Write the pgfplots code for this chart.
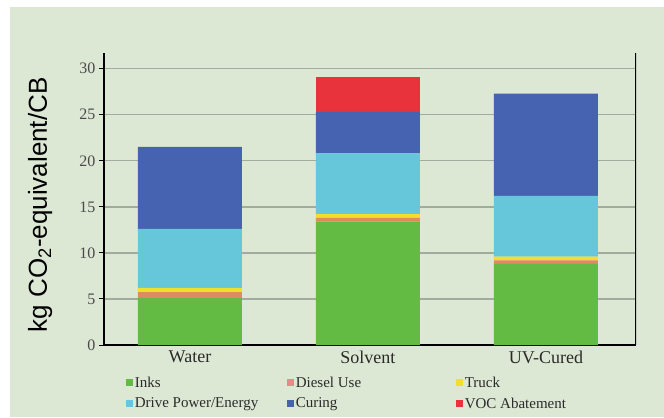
\documentclass[border=0pt]{standalone}
\usepackage{fontspec}
\setmainfont{Liberation Serif}
\setsansfont{Liberation Sans}
\usepackage{pgfplots}
\pgfplotsset{compat=1.18}
\definecolor{bg}{HTML}{DDE8D4}
\definecolor{cInks}{HTML}{64BB44}
\definecolor{cDiesel}{HTML}{E08A62}
\definecolor{cDieselL}{HTML}{E88A8A}
\definecolor{cTruck}{HTML}{F4DE2C}
\definecolor{cDrive}{HTML}{66C7DB}
\definecolor{cCuring}{HTML}{4563B1}
\definecolor{cVOC}{HTML}{E8323C}
\definecolor{gridc}{HTML}{A3AB9E}
\definecolor{txt}{HTML}{2A2A2A}
\begin{document}
\begin{tikzpicture}[x=1bp,y=1bp]
\fill[white] (0,0) rectangle (664,417);
\fill[bg] (10,0) rectangle (664,410);
\begin{axis}[
  at={(104bp,72bp)}, anchor=south west,
  scale only axis, width=532bp, height=292bp,
  xmin=-0.483, xmax=2.506, ymin=0, ymax=31.7,
  ybar stacked, bar width=104bp,
  axis x line*=bottom, axis y line*=left,
  axis line style={line width=2.2bp, black, -},
  xtick={0,1,2}, xticklabels={Water,Solvent,UV-Cured},
  xtick style={draw=none},
  ytick={0,5,...,30},
  ymajorgrids, grid style={gridc, line width=1.4bp},
  tick align=outside, major tick length=5bp,
  ytick style={black, line width=1bp},
  /pgf/number format/assume math mode=true,
  yticklabel style={font=\rmfamily\fontsize{16bp}{18bp}\selectfont, text=txt!85},
  xticklabel style={font=\rmfamily\fontsize{18bp}{20bp}\selectfont, text=txt, inner sep=1bp},
  ylabel={kg CO\textsubscript{2}-equivalent/CB},
  ylabel style={font=\sffamily\fontsize{26bp}{28bp}\selectfont, at={(axis description cs:-0.12,0.48)}, anchor=center},
  legend columns=3,
  legend cell align=left,
  legend style={draw=none, fill=none, at={(0.035,-0.095)}, anchor=north west,
    font=\rmfamily\fontsize{15bp}{17bp}\selectfont, text=txt,
    /tikz/every even column/.append style={column sep=0bp}, row sep=5bp},
  legend image code/.code={\draw[#1, draw=none] (0bp,-3.5bp) rectangle (7bp,3.5bp);},
]
\addplot[fill=cInks, draw=none] coordinates {(0,5.1) (1,13.4) (2,8.8)};
\addlegendentry{\makebox[150bp][l]{Inks}}
\addplot[fill=cDiesel, draw=none, legend image code/.code={\fill[cDieselL] (0bp,-3.5bp) rectangle (7bp,3.5bp);}] coordinates {(0,0.65) (1,0.4) (2,0.4)};
\addlegendentry{\makebox[158bp][l]{Diesel Use}}
\addplot[fill=cTruck, draw=none] coordinates {(0,0.45) (1,0.4) (2,0.4)};
\addlegendentry{Truck}
\addplot[fill=cDrive, draw=none] coordinates {(0,6.4) (1,6.6) (2,6.6)};
\addlegendentry{\makebox[150bp][l]{Drive Power/Energy}}
\addplot[fill=cCuring, draw=none] coordinates {(0,8.9) (1,4.5) (2,11.1)};
\addlegendentry{\makebox[158bp][l]{Curing}}
\addplot[fill=cVOC, draw=none] coordinates {(0,0) (1,3.8) (2,0)};
\addlegendentry{VOC Abatement}
\draw[line width=1.3bp, black] (rel axis cs:1,0) -- (rel axis cs:1,1);
\end{axis}
\end{tikzpicture}
\end{document}
